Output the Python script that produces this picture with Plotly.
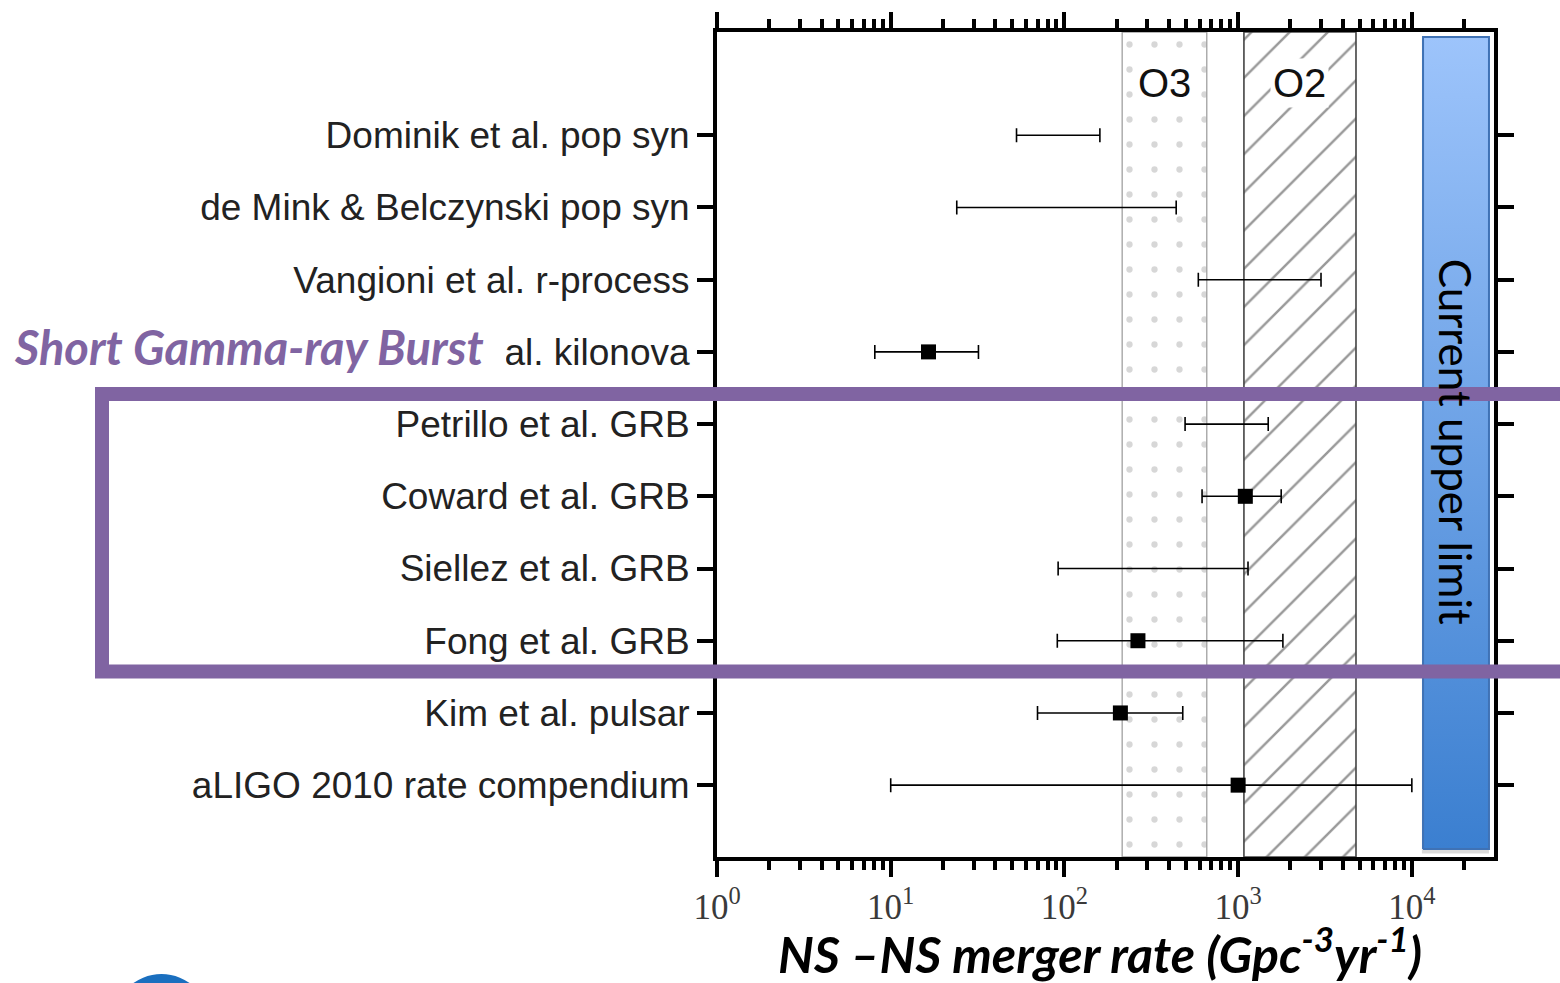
import math
import plotly.graph_objects as go

# ---------------- data ----------------
labels = ["Dominik et al. pop syn", "de Mink & Belczynski pop syn", "Vangioni et al. r-process",
          "Jin et al. kilonova", "Petrillo et al. GRB", "Coward et al. GRB", "Siellez et al. GRB",
          "Fong et al. GRB", "Kim et al. pulsar", "aLIGO 2010 rate compendium"]
rate_low = [53, 24, 590, 8.1, 495, 620, 92, 91, 70, 10]
rate_high = [160, 440, 3000, 32, 1490, 1770, 1140, 1810, 480, 10000]
rate_best = [None, None, None, 16.5, None, 1100, None, 265, 210, 1000]

o3_range = [215, 660]
o2_range = [1080, 4770]
upper_limit_range = [11600, 27800]

x_tickvals = [1, 10, 100, 1000, 10000]
x_ticktext = ["10<sup>0</sup>", "10<sup>1</sup>", "10<sup>2</sup>", "10<sup>3</sup>", "10<sup>4</sup>"]

# ---------------- layout constants ----------------
W, H = 1560, 983
L, R, T, B = 717, 66, 25, 126
n = len(labels)
ypos = [n - 1 - i for i in range(n)]
Y_MIN, Y_MAX = -0.995, 10.43
X_RANGE = [0, 4.473]
PURPLE = "#8064a2"

def px_x(p):
    return (p - L) / (W - L - R)

def px_y(p):
    return (H - B - p) / (H - T - B)

def logmid(r):
    return (math.log10(r[0]) + math.log10(r[1])) / 2

fig = go.Figure()

def band(rng, y0, y1):
    return [rng[0], rng[1], rng[1], rng[0], rng[0]], [y0, y0, y1, y1, y0]

# O3 dotted band
bx, by = band(o3_range, Y_MIN, Y_MAX)
fig.add_trace(go.Scatter(x=bx, y=by, mode="lines", fill="toself",
                         fillcolor="white", line=dict(color="#a0a0a0", width=1.3),
                         fillpattern=dict(shape=".", fgcolor="#b0b0b0", bgcolor="white",
                                          size=25, solidity=0.05),
                         hoverinfo="skip", showlegend=False))
# O2 hatched band
bx, by = band(o2_range, Y_MIN, Y_MAX)
fig.add_trace(go.Scatter(x=bx, y=by, mode="lines", fill="toself",
                         fillcolor="white", line=dict(color="#444444", width=1.6),
                         fillpattern=dict(shape="/", fgcolor="#333333", bgcolor="white",
                                          size=27, solidity=0.09),
                         hoverinfo="skip", showlegend=False))
# Current upper limit bar (with soft shadow)
ub_y0, ub_y1 = -0.885, 10.36
sx, sy = band([upper_limit_range[0] * 0.985, upper_limit_range[1] * 1.0], ub_y0 - 0.06, ub_y1 - 0.02)
fig.add_trace(go.Scatter(x=sx, y=sy, mode="lines", fill="toself",
                         fillcolor="rgba(0,0,0,0.15)", line=dict(width=0),
                         hoverinfo="skip", showlegend=False))
bx, by = band(upper_limit_range, ub_y0, ub_y1)
fig.add_trace(go.Scatter(x=bx, y=by, mode="lines", fill="toself",
                         line=dict(color="#3f72b5", width=2),
                         fillgradient=dict(type="vertical",
                                           colorscale=[[0, "#3b7fd0"], [1, "#9dc4fb"]]),
                         hoverinfo="skip", showlegend=False))

# range-only entries
r_idx = [i for i in range(n) if rate_best[i] is None]
fig.add_trace(go.Scatter(
    x=[rate_low[i] for i in r_idx], y=[ypos[i] for i in r_idx], mode="markers",
    marker=dict(size=1, color="rgba(0,0,0,0)"),
    error_x=dict(type="data", symmetric=False,
                 array=[rate_high[i] - rate_low[i] for i in r_idx],
                 arrayminus=[0 for _ in r_idx], color="black", thickness=1.6, width=7),
    hoverinfo="skip", showlegend=False))

# entries with best estimate
b_idx = [i for i in range(n) if rate_best[i] is not None]
fig.add_trace(go.Scatter(
    x=[rate_best[i] for i in b_idx], y=[ypos[i] for i in b_idx], mode="markers",
    marker=dict(symbol="square", size=15, color="black"),
    error_x=dict(type="data", symmetric=False,
                 array=[rate_high[i] - rate_best[i] for i in b_idx],
                 arrayminus=[rate_best[i] - rate_low[i] for i in b_idx],
                 color="black", thickness=1.6, width=7),
    hoverinfo="skip", showlegend=False))

minor_vals = [m * 10 ** d for d in range(0, 5) for m in range(2, 10) if m * 10 ** d < 10 ** X_RANGE[1]]

fig.update_layout(
    width=W, height=H,
    margin=dict(l=L, r=R, t=T, b=B, pad=0),
    paper_bgcolor="white", plot_bgcolor="white",
    showlegend=False,
    xaxis=dict(type="log", range=X_RANGE, tickmode="array", tickvals=x_tickvals,
               ticktext=x_ticktext, ticks="outside", ticklen=16, tickwidth=4,
               tickcolor="black", showline=True, linewidth=4, linecolor="black",
               mirror="ticks", showgrid=False, zeroline=False,
               tickfont=dict(family="Liberation Serif", size=35, color="#3a3a3a"),
               minor=dict(tickmode="array", tickvals=minor_vals, ticks="outside",
                          ticklen=9, tickwidth=3.5, tickcolor="black", showgrid=False)),
    yaxis=dict(range=[Y_MIN, Y_MAX], tickmode="array", tickvals=ypos, ticktext=labels,
               ticks="outside", ticklen=16, tickwidth=4, tickcolor="black",
               showline=True, linewidth=4, linecolor="black", mirror="ticks",
               showgrid=False, zeroline=False,
               tickfont=dict(family="Liberation Sans", size=37, color="#222222")),
)

# band labels
fig.add_annotation(x=logmid(o3_range), y=9.72, xref="x", yref="y",
                   text="O3", showarrow=False, bgcolor="white", borderpad=2,
                   font=dict(family="Liberation Sans", size=40, color="#111111"))
fig.add_annotation(x=logmid(o2_range), y=9.72, xref="x", yref="y",
                   text="O2", showarrow=False, bgcolor="white", borderpad=2,
                   font=dict(family="Liberation Sans", size=40, color="#111111"))
fig.add_annotation(x=logmid(upper_limit_range), y=4.756,
                   xref="x", yref="y", text="Current upper limit", textangle=90,
                   showarrow=False, font=dict(family="Lato", size=44, color="black"))

# x-axis title
fig.add_annotation(x=px_x(1100), y=px_y(951), xref="paper", yref="paper",
                   xanchor="center", yanchor="middle", showarrow=False,
                   text="NS \u2013NS merger rate (Gpc<sup>-3</sup>yr<sup>-1</sup>)",
                   font=dict(family="Lato", size=50, color="black", weight="bold", style="italic"))

# purple highlight frame, white label box and label
fig.add_shape(type="rect", xref="paper", yref="paper", layer="above",
              x0=px_x(0), x1=px_x(506), y0=px_y(382), y1=px_y(318),
              fillcolor="white", line=dict(width=0))
fig.add_shape(type="rect", xref="paper", yref="paper", layer="above",
              x0=px_x(102), x1=px_x(1580), y0=px_y(670), y1=px_y(390),
              fillcolor="rgba(0,0,0,0)", line=dict(color=PURPLE, width=14))
fig.add_annotation(x=px_x(12), y=px_y(343), xref="paper", yref="paper",
                   xanchor="left", yanchor="middle", showarrow=False,
                   text="Short Gamma-ray Burst",
                   font=dict(family="Lato", size=47, color=PURPLE, weight="bold", style="italic"))

# partial logo circle at bottom-left
fig.add_shape(type="circle", xref="paper", yref="paper", layer="above",
              x0=px_x(113.5), x1=px_x(209.5), y0=px_y(1071), y1=px_y(975),
              fillcolor="#1a6fbf", line=dict(width=0))

fig.write_html("out.html")
